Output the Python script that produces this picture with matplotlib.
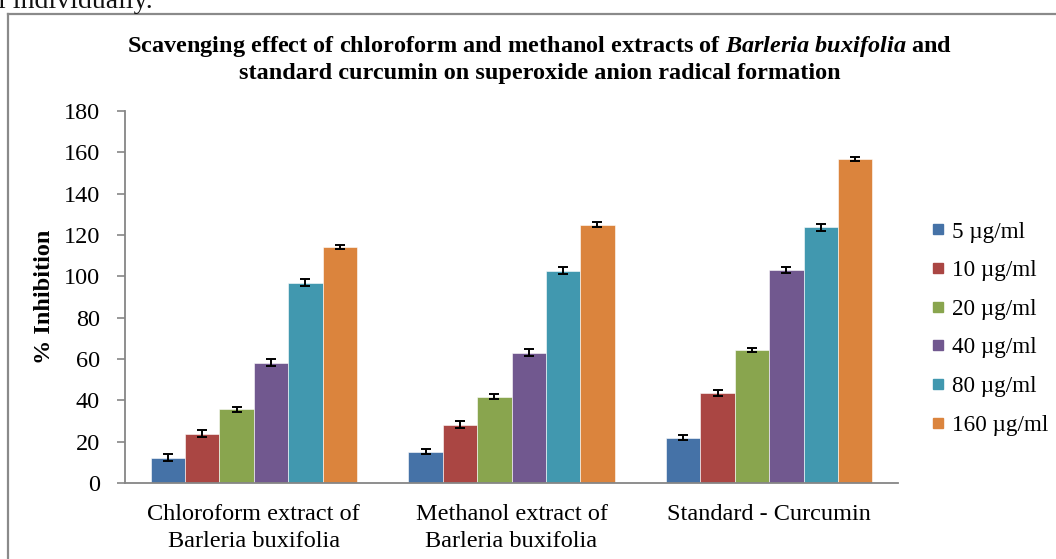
import numpy as np
import matplotlib
matplotlib.use("Agg")
import matplotlib.pyplot as plt
from matplotlib.lines import Line2D

plt.rcParams["font.family"] = ["Liberation Serif", "DejaVu Serif"]
plt.rcParams["mathtext.fontset"] = "custom"
plt.rcParams["mathtext.it"] = "Liberation Serif:italic:bold"
plt.rcParams["mathtext.rm"] = "Liberation Serif:bold"

# Data
categories = ["Chloroform extract of\nBarleria buxifolia",
              "Methanol extract of\nBarleria buxifolia",
              "Standard - Curcumin"]
concentrations = ["5 µg/ml", "10 µg/ml", "20 µg/ml", "40 µg/ml", "80 µg/ml", "160 µg/ml"]
inhibition_5 = [12.3, 15.2, 22.0]
inhibition_10 = [23.9, 28.3, 43.7]
inhibition_20 = [35.6, 41.8, 64.4]
inhibition_40 = [58.3, 63.0, 103.0]
inhibition_80 = [97.0, 102.8, 123.8]
inhibition_160 = [114.3, 124.9, 156.8]
err_5 = [1.6, 1.4, 1.1]
err_10 = [1.8, 1.6, 1.4]
err_20 = [1.2, 1.1, 1.1]
err_40 = [1.8, 1.7, 1.4]
err_80 = [1.9, 1.7, 1.7]
err_160 = [1.0, 1.2, 0.9]
yticks = [0, 20, 40, 60, 80, 100, 120, 140, 160, 180]

series = [inhibition_5, inhibition_10, inhibition_20, inhibition_40, inhibition_80, inhibition_160]
errors = [err_5, err_10, err_20, err_40, err_80, err_160]
colors = ["#4572A7", "#AA4643", "#89A54E", "#71588F", "#4198AF", "#DB843D"]

W, H = 1056, 559
fig = plt.figure(figsize=(W / 100, H / 100), dpi=100)

# Surrounding page text and frame lines
fig.text(-2 / W, 1 - 8 / H, "l individually.", fontsize=20, ha="left", va="baseline",
         color="#111111")
fig.add_artist(Line2D([8 / W, 8 / W], [0, 1 - 14 / H], transform=fig.transFigure,
                      color="#8a8a8a", lw=1.6))
fig.add_artist(Line2D([8 / W, 1], [1 - 14 / H, 1 - 14 / H], transform=fig.transFigure,
                      color="#8a8a8a", lw=1.6))

ax = fig.add_axes([125 / W, 1 - 483 / H, (898 - 125) / W, (483 - 111) / H])

n = len(series)
bw = 1.0 / (n + 1.5)
x = np.arange(len(categories))
for i, (vals, errs) in enumerate(zip(series, errors)):
    pos = x + (i - (n - 1) / 2) * bw
    ax.bar(pos, vals, width=bw, color=colors[i], edgecolor="white", linewidth=0.4,
           label=concentrations[i], zorder=2)
    ax.errorbar(pos, vals, yerr=errs, fmt="none", ecolor="black", elinewidth=1.4,
                capsize=3.6, capthick=1.4, zorder=3)

ax.set_xlim(-0.5, len(categories) - 0.5)
ax.set_ylim(0, 180)
ax.set_yticks(yticks)
ax.set_yticklabels([str(t) for t in yticks], fontsize=17.5)
ax.set_xticks(x)
ax.set_xticklabels(categories, fontsize=17.5, linespacing=1.4)
ax.tick_params(axis="x", length=0, pad=15)
ax.tick_params(axis="y", length=6, width=1.2, color="#868686", pad=12, direction="out")
for side in ["top", "right"]:
    ax.spines[side].set_visible(False)
for side in ["left", "bottom"]:
    ax.spines[side].set_color("#868686")
    ax.spines[side].set_linewidth(1.3)

ax.set_ylabel("% Inhibition", fontsize=17.5, fontweight="bold")
ax.yaxis.set_label_coords(-70 / (898 - 125), 0.5)

fig.text(540 / W, 1 - 52 / H,
         r"Scavenging effect of chloroform and methanol extracts of $Barleria\ buxifolia$ and",
         fontsize=17.5, fontweight="bold", ha="center", va="baseline")
fig.text(540 / W, 1 - 79 / H,
         "standard curcumin on superoxide anion radical formation",
         fontsize=17.5, fontweight="bold", ha="center", va="baseline")

handles = [Line2D([], [], marker="s", linestyle="none", markersize=7.5,
                  markerfacecolor=c, markeredgecolor=c) for c in colors]
fig.legend(handles, concentrations, loc="upper left",
           bbox_to_anchor=(922 / W, 1 - 212 / H), frameon=False, fontsize=16.7,
           handlelength=0.6, handletextpad=0.3, labelspacing=0.75, borderaxespad=0)

fig.savefig("out.png", dpi=100)
